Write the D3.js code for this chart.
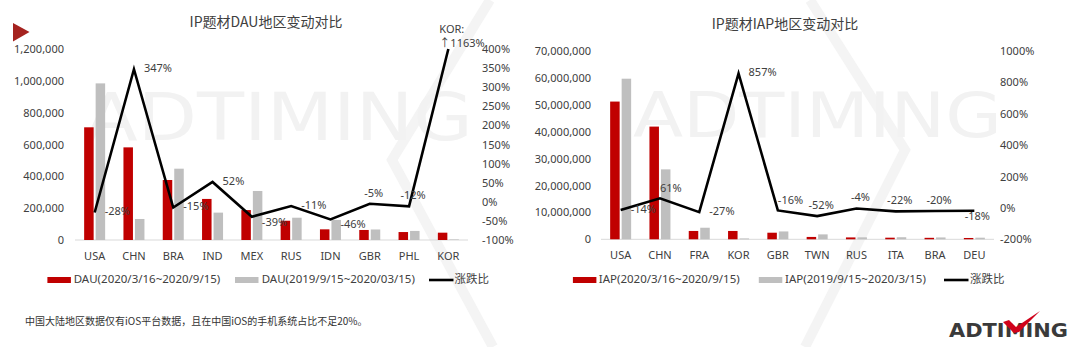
<!DOCTYPE html>
<html><head><meta charset="utf-8">
<script src="https://cdn.jsdelivr.net/npm/d3@7"></script>
<style>
body{margin:0;background:#fff;}
svg{display:block;font-family:"Noto Sans","Noto Sans CJK SC",sans-serif;}
</style>
</head><body>
<svg id="c" width="1080" height="347"></svg>
<script>
// ---------- DATA ----------
const dauCategories = ['USA','CHN','BRA','IND','MEX','RUS','IDN','GBR','PHL','KOR'];
const dauCurrent  = [708000,582000,377000,258000,188000,121000,67000,63000,50000,46000];
const dauPrevious = [984000,132000,448000,172000,308000,140000,126000,66000,57000,3600];
const dauChange   = [-0.28,3.47,-0.15,0.52,-0.39,-0.11,-0.46,-0.05,-0.12,11.63];
const dauLeftTicks  = [0,200000,400000,600000,800000,1000000,1200000];
const dauRightTicks = [-1,-0.5,0,0.5,1,1.5,2,2.5,3,3.5,4];
const dauLegend = ['DAU(2020/3/16~2020/9/15)','DAU(2019/9/15~2020/03/15)','涨跌比'];
const dauTitle = 'IP题材DAU地区变动对比';

const iapCategories = ['USA','CHN','FRA','KOR','GBR','TWN','RUS','ITA','BRA','DEU'];
const iapCurrent  = [51200000,41900000,3100000,3100000,2450000,880000,700000,600000,550000,490000];
const iapPrevious = [59700000,26000000,4300000,324000,2920000,1830000,730000,770000,690000,600000];
const iapChange   = [-0.14,0.61,-0.27,8.57,-0.16,-0.52,-0.04,-0.22,-0.20,-0.18];
const iapLeftTicks  = [0,10000000,20000000,30000000,40000000,50000000,60000000,70000000];
const iapRightTicks = [-2,0,2,4,6,8,10];
const iapLegend = ['IAP(2020/3/16~2020/9/15)','IAP(2019/9/15~2020/3/15)','涨跌比'];
const iapTitle = 'IP题材IAP地区变动对比';

const footnote = '中国大陆地区数据仅有iOS平台数据，且在中国iOS的手机系统占比不足20%。';

// label placement keywords (r = right, rb = right-below, a = above, ar = above-right, b = below, k = callout)
const dauLabelPlace = ['r','r','r','r','rb','r','rb','a','a','k'];
const iapLabelPlace = ['r','ar','r','r','ar','a','a','a','a','b'];

// ---------- STYLE ----------
const RED = '#C00000', GRAY = '#BFBFBF', TXT = '#404040', WM = '#f2f2f2';
const svg = d3.select('#c');

// ---------- watermark ----------
const wm = svg.append('g');
wm.append('polyline').attr('points','490,0 392,160 493,347')
  .attr('fill','none').attr('stroke','#f4f4f4').attr('stroke-width',10);
wm.append('polyline').attr('points','810,0 905,150 805,347')
  .attr('fill','none').attr('stroke','#f4f4f4').attr('stroke-width',10);
wm.append('text').attr('x',85).attr('y',140).attr('textLength',388).attr('lengthAdjust','spacingAndGlyphs')
  .attr('font-size',66).attr('fill',WM).attr('font-family','DejaVu Sans').text('ADTIMING');
wm.append('text').attr('x',633).attr('y',137).attr('textLength',369).attr('lengthAdjust','spacingAndGlyphs')
  .attr('font-size',63).attr('fill',WM).attr('font-family','DejaVu Sans').text('ADTIMING');

// red triangle
svg.append('path').attr('d','M13,23 L29.5,32 L13,41.5 Z').attr('fill','#A5231F');

function drawChart(cfg){
  const g = svg.append('g');
  const x = d3.scaleBand().domain(cfg.cats).range(cfg.xr);
  const yL = d3.scaleLinear().domain(cfg.lDom).range(cfg.yr);
  const yR = d3.scaleLinear().domain(cfg.rDom).range(cfg.yr).clamp(true);
  const cx = c => x(c) + x.bandwidth()/2;
  const y0 = yL(0);

  // title
  g.append('text').attr('x',cfg.titleX).attr('y',cfg.titleY).attr('text-anchor','middle')
    .attr('dominant-baseline','middle').attr('font-size',14).attr('fill',TXT)
    .attr('font-family','"Noto Sans CJK SC","Noto Sans",sans-serif').text(cfg.title);

  // baseline
  g.append('line').attr('x1',cfg.xr[0]).attr('x2',cfg.xr[1]).attr('y1',y0).attr('y2',y0)
    .attr('stroke','#d9d9d9').attr('stroke-width',1);

  // bars
  const bw = 9.5;
  g.selectAll('.cur').data(cfg.cats).join('rect')
    .attr('x',c=>cx(c)-10.5).attr('width',bw)
    .attr('y',(c,i)=>yL(cfg.cur[i])).attr('height',(c,i)=>y0-yL(cfg.cur[i])).attr('fill',RED);
  g.selectAll('.prev').data(cfg.cats).join('rect')
    .attr('x',c=>cx(c)+1).attr('width',bw)
    .attr('y',(c,i)=>yL(cfg.prev[i])).attr('height',(c,i)=>y0-yL(cfg.prev[i])).attr('fill',GRAY);

  // line
  const line = d3.line().x((d,i)=>cx(cfg.cats[i])).y(d=>yR(d));
  g.append('path').datum(cfg.chg).attr('d',line).attr('fill','none')
    .attr('stroke','#000').attr('stroke-width',2.6).attr('stroke-linejoin','miter');

  // line labels
  const fmtP = d => Math.round(d*100)+'%';
  cfg.chg.forEach((v,i)=>{
    const px = cx(cfg.cats[i]), py = yR(v), p = cfg.place[i];
    if(p==='k'){
      const t = g.append('text').attr('font-size',11).attr('fill',TXT);
      t.append('tspan').attr('x',px-9).attr('y',yR(cfg.rDom[1])-19).attr('dominant-baseline','middle').text(cfg.cats[i]+':');
      t.append('tspan').attr('x',px-9).attr('y',yR(cfg.rDom[1])-5).attr('dominant-baseline','middle').text('↑'+fmtP(v));
      return;
    }
    let tx=px, ty=py, anchor='start';
    if(p==='r'){tx=px+10;}
    else if(p==='rb'){tx=px+10; ty=py+6;}
    else if(p==='a'){tx=px+4; ty=py-10; anchor='middle';}
    else if(p==='ar'){tx=px; ty=py-9;}
    else if(p==='b'){tx=px+3; ty=py+6; anchor='middle';}
    g.append('text').attr('x',tx).attr('y',ty).attr('text-anchor',anchor)
      .attr('dominant-baseline','middle').attr('font-size',11).attr('fill',TXT).text(fmtP(v));
  });

  // axes
  const styleAxis = sel => { sel.select('.domain').remove();
    sel.selectAll('text').attr('font-size',11).attr('fill',TXT)
      .attr('font-family','"Noto Sans","Noto Sans CJK SC",sans-serif'); };
  g.append('g').attr('transform',`translate(${cfg.lAxisX},0)`)
    .call(d3.axisLeft(yL).tickValues(cfg.lTicks).tickSize(0).tickPadding(0).tickFormat(d3.format(',')))
    .call(styleAxis);
  g.append('g').attr('transform',`translate(${cfg.rAxisX},0)`)
    .call(d3.axisRight(yR).tickValues(cfg.rTicks).tickSize(0).tickPadding(0).tickFormat(fmtP))
    .call(styleAxis);
  g.append('g').attr('transform',`translate(0,${y0})`)
    .call(d3.axisBottom(x).tickSize(0).tickPadding(12))
    .call(styleAxis);

  // legend
  const L = cfg.leg, ly = 280;
  g.append('rect').attr('x',L[0]).attr('y',ly-3).attr('width',23.5).attr('height',6).attr('fill',RED);
  g.append('rect').attr('x',L[2]).attr('y',ly-3).attr('width',23.5).attr('height',6).attr('fill',GRAY);
  g.append('line').attr('x1',L[4]).attr('x2',L[4]+24.5).attr('y1',ly).attr('y2',ly).attr('stroke','#000').attr('stroke-width',2.6);
  [[L[1],0],[L[3],1],[L[5],2]].forEach(([lx,k])=>{
    g.append('text').attr('x',lx).attr('y',ly).attr('dominant-baseline','middle')
      .attr('font-size',11.5).attr('fill',TXT).text(cfg.legText[k]);
  });
}

drawChart({cats:dauCategories, cur:dauCurrent, prev:dauPrevious, chg:dauChange,
  lDom:[0,1200000], rDom:[-1,4], lTicks:dauLeftTicks, rTicks:dauRightTicks,
  xr:[75,468], yr:[240,49], lAxisX:64, rAxisX:482,
  title:dauTitle, titleX:266, titleY:23, place:dauLabelPlace,
  leg:[47.4,73.7,235,261.7,429,454.5], legText:dauLegend});

drawChart({cats:iapCategories, cur:iapCurrent, prev:iapPrevious, chg:iapChange,
  lDom:[0,70000000], rDom:[-2,10], lTicks:iapLeftTicks, rTicks:iapRightTicks,
  xr:[601,994], yr:[239.3,51], lAxisX:591, rAxisX:1000,
  title:iapTitle, titleX:785, titleY:25, place:iapLabelPlace,
  leg:[572.9,598.8,758.8,785,944,970], legText:iapLegend});

// footnote
svg.append('text').attr('x',25).attr('y',322).attr('dominant-baseline','middle')
  .attr('font-size',10).attr('fill','#333').attr('font-family','"Noto Sans CJK SC",sans-serif').text(footnote);

// logo
const logo = svg.append('g');
logo.append('text').attr('x',949).attr('y',337).attr('textLength',119).attr('lengthAdjust','spacingAndGlyphs')
  .attr('font-size',20).attr('font-weight','bold').attr('fill','#3a3a3a')
  .attr('font-family','"DejaVu Sans"').text('ADTIMING');
logo.append('path').attr('d','M1003,322 L1009,320 L1016,327 L1040,311 L1019,332 L1014,333 Z').attr('fill','#D0021B');
</script>
</body></html>
